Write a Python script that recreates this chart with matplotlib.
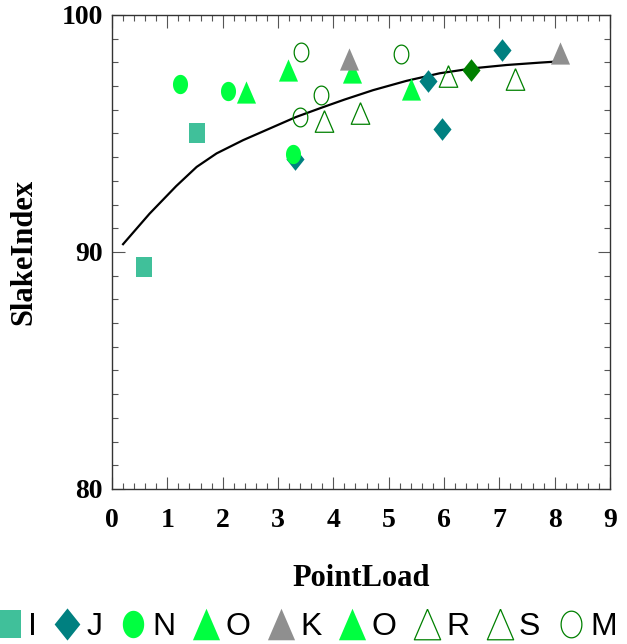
import numpy as np
import matplotlib
matplotlib.use("Agg")
import matplotlib.pyplot as plt
from matplotlib.ticker import MultipleLocator

# data
i_x = [0.58, 1.54]
i_y = [89.37, 95.03]
j_x = [3.30, 5.71, 5.97, 7.04]
j_y = [93.94, 97.23, 95.20, 98.52]
n_x = [1.22, 2.10, 3.27]
n_y = [97.07, 96.79, 94.13]
o1_x = [2.43, 4.33]
o1_y = [96.75, 97.61]
k_x = [4.29, 8.10]
k_y = [98.13, 98.41]
o2_x = [3.18, 5.41]
o2_y = [97.66, 96.89]
r_x = [3.83, 4.49]
r_y = [95.52, 95.85]
s_x = [6.08, 7.29]
s_y = [97.42, 97.31]
m_x = [3.42, 3.77, 3.39, 5.22]
m_y = [98.45, 96.63, 95.70, 98.37]
extra_x = [6.49]
extra_y = [97.68]

fit_x = [0.2, 0.68, 1.16, 1.53, 1.89, 2.37, 2.85, 3.33, 3.8, 4.2, 4.72,
         5.32, 5.92, 6.52, 7.13, 7.73, 8.0]
fit_y = [90.33, 91.62, 92.78, 93.59, 94.16, 94.72, 95.21, 95.70, 96.1,
         96.43, 96.83, 97.22, 97.54, 97.75, 97.89, 97.99, 98.03]


# tall (vertically stretched) marker shapes
def rect(w):
    return [(-w / 2, -0.5), (w / 2, -0.5), (w / 2, 0.5), (-w / 2, 0.5), (-w / 2, -0.5)]


def diamond(w):
    return [(0, -0.5), (w / 2, 0), (0, 0.5), (-w / 2, 0), (0, -0.5)]


def tri(w):
    return [(0, 0.5), (-w / 2, -0.5), (w / 2, -0.5), (0, 0.5)]


def ellipse(w):
    t = np.linspace(0, 2 * np.pi, 60)
    return list(zip(w / 2 * np.cos(t), 0.5 * np.sin(t)))


sq_m = rect(0.87)
di_m = diamond(0.8)
ci_m = ellipse(0.78)
tr_m = tri(0.86)

fig = plt.figure(figsize=(6.27, 6.44), dpi=100)
ax = fig.add_axes([112 / 627, 1 - 489 / 644, 498 / 627, 474 / 644])

ax.plot(fit_x, fit_y, color="black", lw=1.6, zorder=1)

green = "#00ff40"
dark = "#008000"
ax.plot(i_x, i_y, ls="none", marker=sq_m, ms=13.9, color="#40c09a", mew=0, label="I")
ax.plot(j_x, j_y, ls="none", marker=di_m, ms=16.3, color="#008080", mew=0, label="J")
ax.plot(n_x, n_y, ls="none", marker=ci_m, ms=13.9, color=green, mew=0, label="N")
ax.plot(o1_x, o1_y, ls="none", marker=tr_m, ms=16, color=green, mew=0, label="O")
ax.plot(k_x, k_y, ls="none", marker=tr_m, ms=16, color="#8f8f8f", mew=0, label="K")
ax.plot(o2_x, o2_y, ls="none", marker=tr_m, ms=16, color=green, mew=0, label="O")
ax.plot(r_x, r_y, ls="none", marker=tr_m, ms=15.5, mfc="none", mec=dark, mew=0.9, label="R")
ax.plot(s_x, s_y, ls="none", marker=tr_m, ms=15.5, mfc="none", mec=dark, mew=0.9, label="S")
ax.plot(m_x, m_y, ls="none", marker=ci_m, ms=13.5, mfc="none", mec=dark, mew=0.9, label="M")
ax.plot(extra_x, extra_y, ls="none", marker=di_m, ms=16.3, color=dark, mew=0)

ax.set_xlim(0, 9)
ax.set_ylim(80, 100)
ax.xaxis.set_major_locator(MultipleLocator(1))
ax.xaxis.set_minor_locator(MultipleLocator(0.2))
ax.yaxis.set_major_locator(MultipleLocator(10))
ax.yaxis.set_minor_locator(MultipleLocator(1))
ax.tick_params(which="both", direction="in", top=True, right=True, color="#555555", width=0.8)
ax.tick_params(which="major", length=9)
ax.tick_params(which="minor", length=4.5)
ax.tick_params(axis="x", which="major", pad=14)
ax.tick_params(axis="y", which="major", pad=6.5)
for sp in ax.spines.values():
    sp.set_color("#333333")
    sp.set_linewidth(1.0)

tick_font = {"family": "Liberation Serif", "weight": "bold", "size": 20}
for lab in ax.get_xticklabels() + ax.get_yticklabels():
    lab.set_fontproperties(matplotlib.font_manager.FontProperties(**tick_font))

ax.set_xlabel("PointLoad", family="Liberation Serif", weight="bold", size=22, labelpad=22)
ax.set_ylabel("SlakeIndex", family="Liberation Serif", weight="bold", size=22, labelpad=17)

ax.legend(loc="center left", bbox_to_anchor=(-4 / 627, 1 - 627 / 644),
          bbox_transform=fig.transFigure, ncol=9, frameon=False,
          prop={"family": "Liberation Sans", "size": 23},
          markerscale=1.42, handlelength=0.8, handletextpad=0.2,
          columnspacing=0.56, borderpad=0, borderaxespad=0, numpoints=1)

fig.savefig("out.png", dpi=100)
